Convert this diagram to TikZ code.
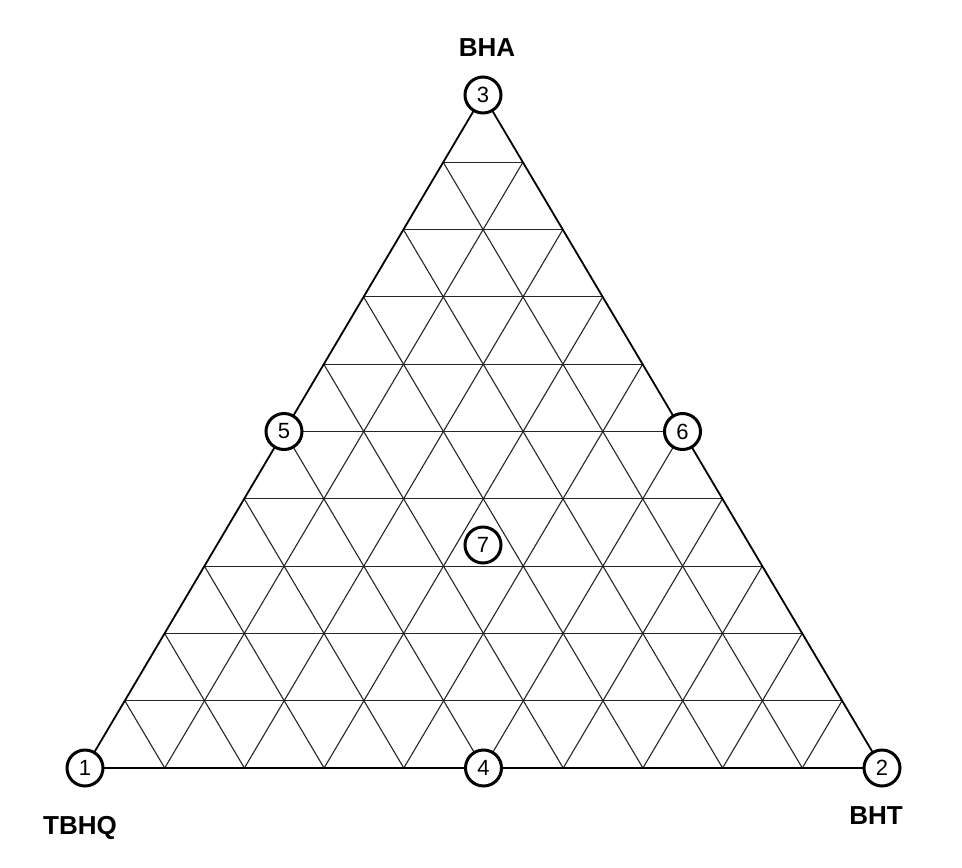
\documentclass[tikz,border=0pt]{standalone}
\usepackage{fontspec}
\setmainfont{Liberation Sans}
\usetikzlibrary{calc}
\begin{document}
\begin{tikzpicture}[x=1pt,y=-1pt,
  grid/.style={line width=1.1pt,black!85},
  vtx/.style={circle,draw,line width=3pt,fill=white,minimum size=36pt,inner sep=0pt,font=\fontsize{22}{22}\selectfont},
  lab/.style={font=\bfseries\fontsize{26}{26}\selectfont}]
\useasboundingbox (0,0) rectangle (962,868);
\coordinate (A) at (85,768);
\coordinate (B) at (882,768);
\coordinate (C) at (483,95);
\foreach \i in {1,...,9}{
  \draw[grid] ($(A)!\i/10!(C)$) -- ($(B)!\i/10!(C)$);
  \draw[grid] ($(A)!\i/10!(B)$) -- ($(C)!\i/10!(B)$);
  \draw[grid] ($(B)!\i/10!(A)$) -- ($(C)!\i/10!(A)$);
}
\draw[line width=1.8pt] (A) -- (B) -- (C) -- cycle;
\node[vtx] (n1) at (A) {1};
\node[vtx] (n2) at (B) {2};
\node[vtx] (n3) at (C) {3};
\node[vtx] (n4) at ($(A)!0.5!(B)$) {4};
\node[vtx] (n5) at ($(A)!0.5!(C)$) {5};
\node[vtx] (n6) at ($(B)!0.5!(C)$) {6};
\node[vtx] (n7) at (483,545) {7};
\node[lab] (tbhq) at (80,828) {TBHQ};
\node[lab] (bht) at (876,816) {BHT};
\node[lab] (bha) at (487,48) {BHA};
\end{tikzpicture}
\end{document}
